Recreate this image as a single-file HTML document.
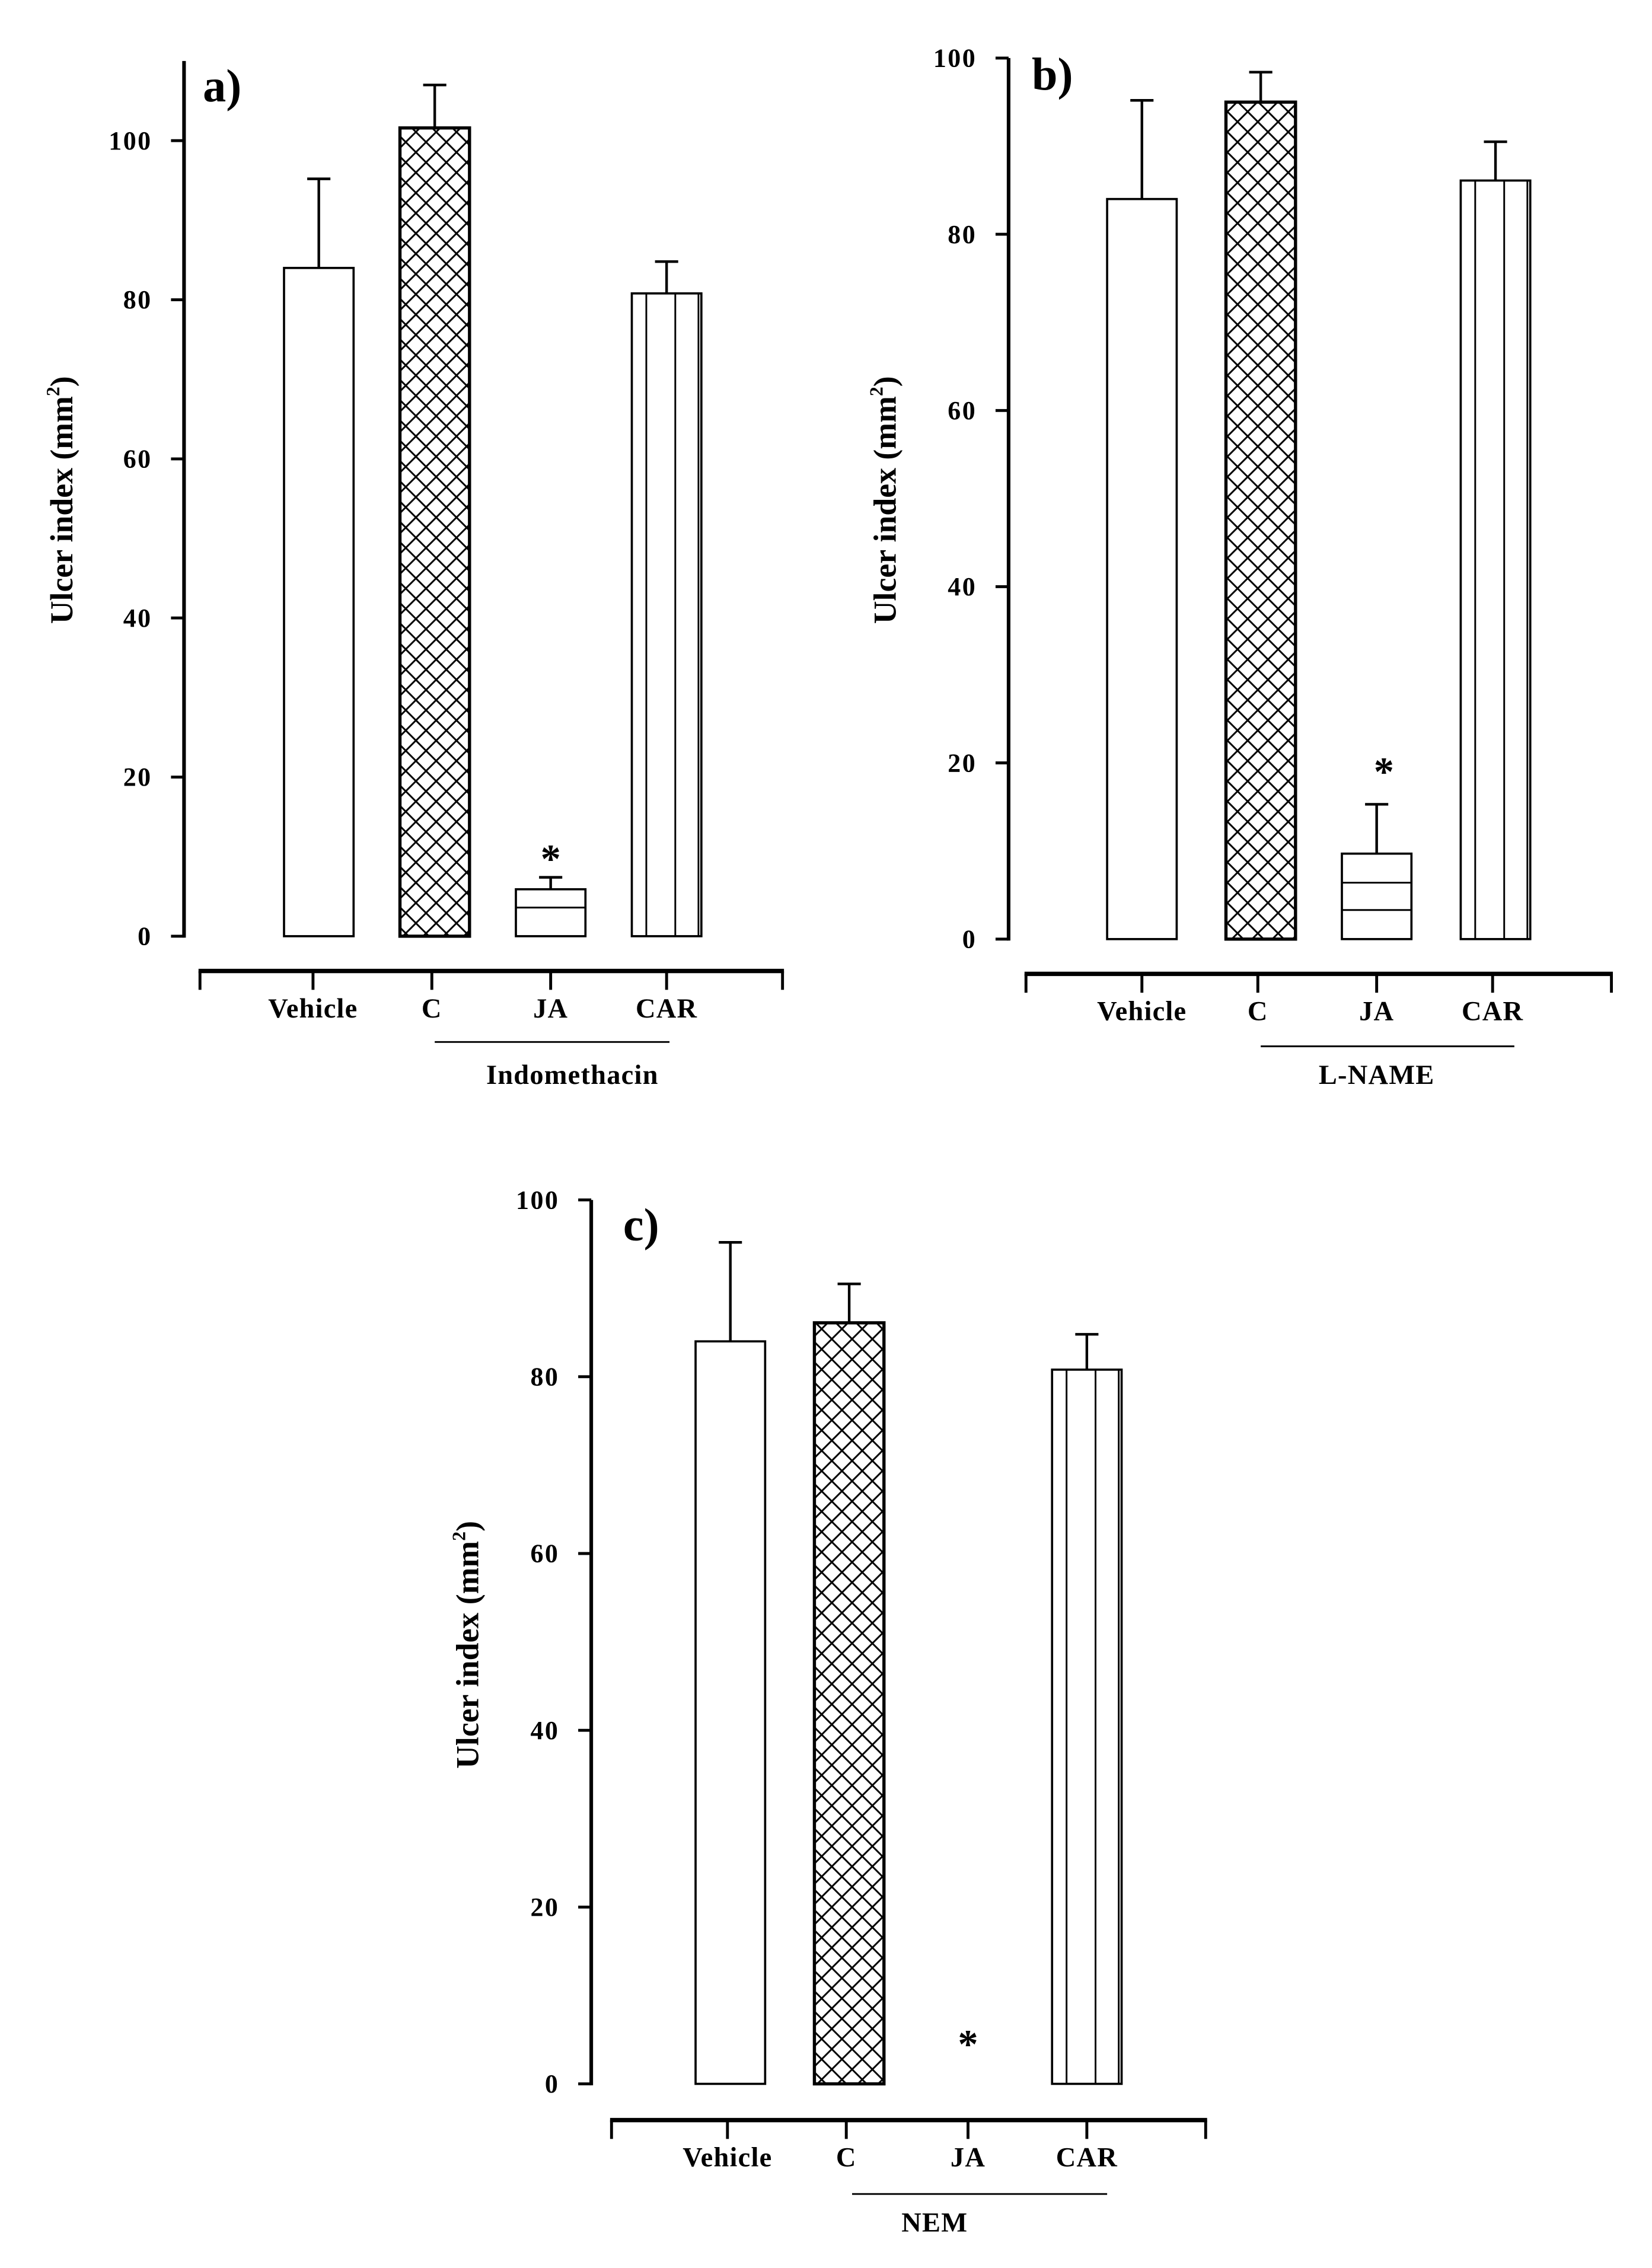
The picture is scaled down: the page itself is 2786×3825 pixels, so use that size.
<!DOCTYPE html>
<html><head><meta charset="utf-8"><style>
html,body{margin:0;padding:0;background:#fff}
svg{display:block}
text{font-family:"Liberation Serif",serif;font-weight:bold;fill:#000}
</style></head><body>
<svg id="chart" xmlns="http://www.w3.org/2000/svg" width="2786" height="3825" viewBox="0 0 1140 1565">
<defs>
<pattern id="xhatch" patternUnits="userSpaceOnUse" width="14" height="14">
<path d="M0,0 L14,14 M14,0 L0,14" stroke="#000" stroke-width="1.2"/>
</pattern>
</defs>
</svg>
<script>
const categories = ["Vehicle","C","JA","CAR"];
const valuesA = [84, 101.6, 5.9, 80.8];
const errorsA = [95.2, 107, 7.4, 84.8];
const valuesB = [84, 95, 9.7, 86.1];
const errorsB = [95.2, 98.4, 15.3, 90.5];
const valuesC = [84, 86.1, 0, 80.8];
const errorsC = [95.2, 90.5, 0, 84.8];
const ticksY = [0, 20, 40, 60, 80, 100];
const jaLinesA = [3.6];
const jaLinesB = [6.4, 3.3];
const jaLinesC = [];

const NS = "http://www.w3.org/2000/svg";
const svg = document.getElementById("chart");
function mk(tag, attrs, parent){
  const e = document.createElementNS(NS, tag);
  for (const k in attrs) e.setAttribute(k, attrs[k]);
  (parent||svg).appendChild(e);
  return e;
}
const panels = [
  {id:"a", vals:valuesA, errs:errorsA, ja:jaLinesA, yAxisX:127, yTop:42, y0:646, y100:97, xAxisY:670, xL:138, xR:540,
   xticks:[138,216,298,380,460,540], barX:[196,276,356,436], group:"Indomethacin", gL:300, gR:462, gY:719, gT:748, gX:395,
   lab:[140,70], title:[50,345], stars:[[380,590]]},
  {id:"b", vals:valuesB, errs:errorsB, ja:jaLinesB, yAxisX:696, yTop:40, y0:648, y100:40, xAxisY:672, xL:708, xR:1112,
   xticks:[708,788,868,950,1030,1112], barX:[764,846,926,1008], group:"L-NAME", gL:870, gR:1045, gY:722, gT:748, gX:950,
   lab:[712,62], title:[618,345], stars:[[955,530]]},
  {id:"c", vals:valuesC, errs:errorsC, ja:jaLinesC, yAxisX:408, yTop:828, y0:1438, y100:828, xAxisY:1463, xL:422, xR:832,
   xticks:[422,502,584,668,750,832], barX:[480,562,644,726], group:"NEM", gL:588, gR:764, gY:1514, gT:1540, gX:645,
   lab:[430,856], title:[330,1135], stars:[[668,1408]]}
];
const BW = 48;
panels.forEach(p=>{
  const g = mk("g",{});
  
  
  const yS = v => p.y0 + (p.y100 - p.y0) * v / 100;
  const ya = mk("line",{x1:p.yAxisX,y1:p.yTop,x2:p.yAxisX,y2:p.y0+1,stroke:"#000","stroke-width":2.5},g);
  
  
  ticksY.forEach(t=>{
    const y = yS(t);
    mk("line",{x1:p.yAxisX-9,y1:y,x2:p.yAxisX,y2:y,stroke:"#000","stroke-width":2},g);
    const tl = mk("text",{x:p.yAxisX-22,y:y+6,"text-anchor":"end","font-size":18,"letter-spacing":1},g);
    tl.textContent = t;
    
    
  });
  const tt = mk("text",{x:p.title[0],y:p.title[1],"text-anchor":"middle","font-size":22,transform:`rotate(-90 ${p.title[0]} ${p.title[1]})`},g);
  tt.innerHTML = 'Ulcer index (mm<tspan font-size="13" dy="-9">2</tspan><tspan dy="9">)</tspan>';
  
  
  const xa = mk("line",{x1:p.xL-1,y1:p.xAxisY,x2:p.xR+1,y2:p.xAxisY,stroke:"#000","stroke-width":3},g);
  
  
  p.xticks.forEach(x=>mk("line",{x1:x,y1:p.xAxisY,x2:x,y2:p.xAxisY+13,stroke:"#000","stroke-width":2},g));
  categories.forEach((c,i)=>{
    const cx = p.xticks[i+1];
    const xl = mk("text",{x:cx,y:p.xAxisY+32,"text-anchor":"middle","font-size":19,"letter-spacing":0.5},g);
    xl.textContent = c;
    
    
  });
  categories.forEach((c,i)=>{
    const v = p.vals[i], e = p.errs[i];
    if (v <= 0) return;
    const x = p.barX[i], yt = yS(v), yb = yS(0);
    const cx = x + BW/2;
    const bg = mk("g",{},g);
    
    
    mk("line",{x1:cx,y1:yS(e),x2:cx,y2:yt,stroke:"#000","stroke-width":1.8},bg);
    mk("line",{x1:cx-8,y1:yS(e),x2:cx+8,y2:yS(e),stroke:"#000","stroke-width":1.8},bg);
    const fill = c==="C" ? "url(#xhatch)" : "#fff";
    mk("rect",{x:x,y:yt,width:BW,height:yb-yt,fill:fill,stroke:"#000","stroke-width":c==="C"?2.2:1.5},bg);
    if (c==="JA") {
      p.ja.forEach(vv=>mk("line",{x1:x,y1:yS(vv),x2:x+BW,y2:yS(vv),stroke:"#000","stroke-width":1.2},bg));
    }
    if (c==="CAR") {
      [10,30,46].forEach(dx=>mk("line",{x1:x+dx,y1:yt,x2:x+dx,y2:yb,stroke:"#000","stroke-width":1.2},bg));
    }
  });
  p.stars.forEach(s=>{
    const st = mk("text",{x:s[0],y:s[1]+12,"text-anchor":"middle","font-size":28},g);
    st.textContent = "*";
    
    
  });
  mk("line",{x1:p.gL,y1:p.gY,x2:p.gR,y2:p.gY,stroke:"#000","stroke-width":1.2},g);
  const gt = mk("text",{x:p.gX,y:p.gT,"text-anchor":"middle","font-size":19,"letter-spacing":0.5},g);
  gt.textContent = p.group;
  
  
  const pl = mk("text",{x:p.lab[0],y:p.lab[1],"font-size":32},g);
  pl.textContent = p.id + ")";
  
  
});
</script>
</body></html>
